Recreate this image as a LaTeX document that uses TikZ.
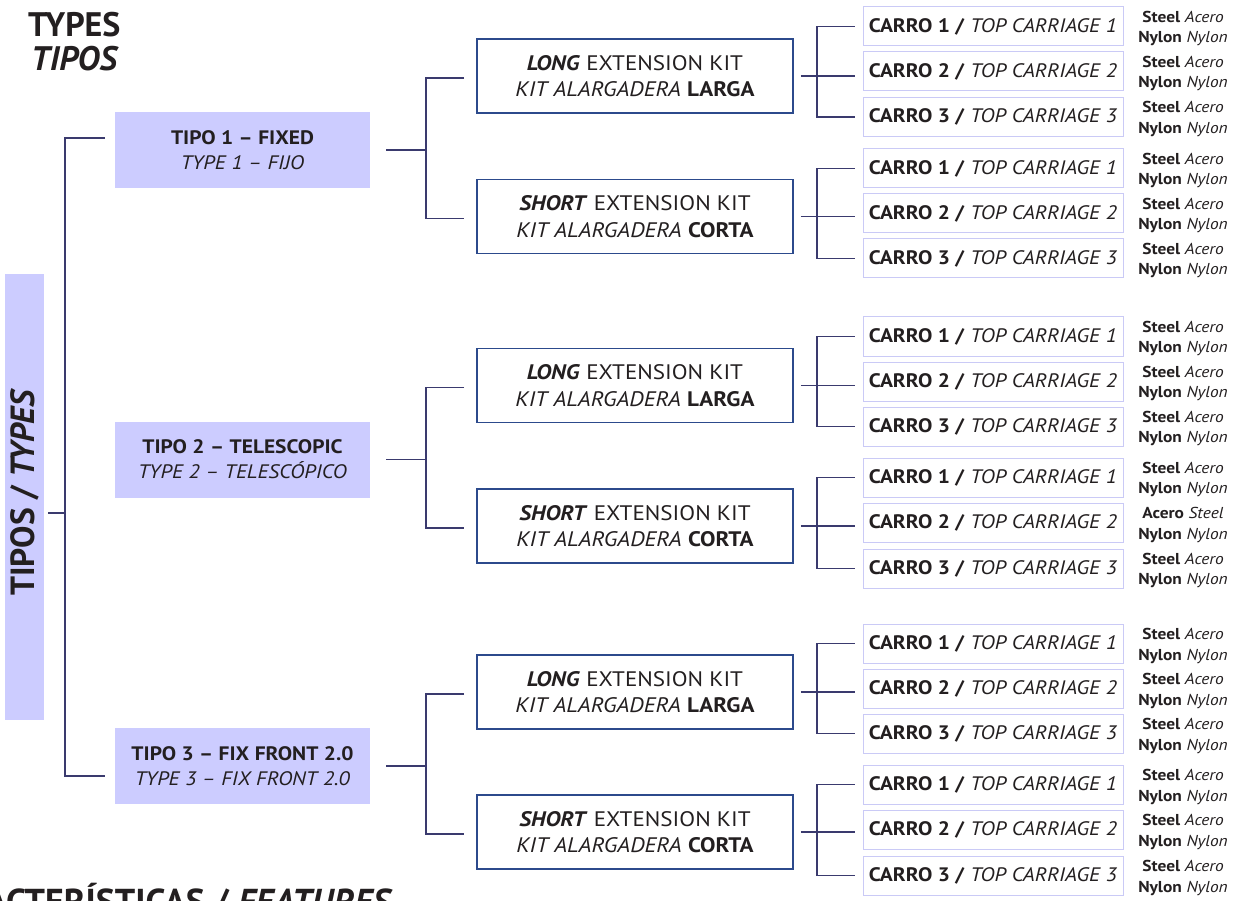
\documentclass[tikz,border=0pt]{standalone}
\usepackage{fontspec}
\setmainfont[FakeStretch=1.1]{PT Sans}
\newfontfamily\plainfont{PT Sans}
\usetikzlibrary{calc}
\definecolor{lav}{HTML}{CCCCFF}
\definecolor{navy}{HTML}{3A3A6E}
\definecolor{extblue}{HTML}{2C4A8C}
\definecolor{carb}{HTML}{CACAF6}
\definecolor{txt}{HTML}{231F20}
\tikzset{
  typebox/.style={fill=lav, minimum width=255pt, minimum height=76pt, inner sep=0pt, align=center, text=txt, font=\fontsize{19.5}{25}\selectfont},
  extbox/.style={draw=extblue, line width=1.6pt, fill=white, minimum width=316pt, minimum height=74pt, inner sep=0pt, align=center, text=txt, font=\fontsize{21}{26.5}\selectfont},
  carbox/.style={draw=carb, line width=1pt, fill=white, minimum width=260pt, minimum height=39pt, inner sep=0pt, text=txt, font=\fontsize{19.5}{20}\selectfont},
  mat/.style={inner sep=0pt, text=txt, font=\fontsize{15.8}{16}\selectfont},
  conn/.style={draw=navy, line width=1.6pt},
}
\newcommand\carro[4]{%
  \node[carbox] (#1) at (993,#2) {\textbf{CARRO #3 /} \textit{TOP CARRIAGE #3}};
  \node[mat] (#1a) at (1183,#2-10) {#4};
  \node[mat] (#1b) at (1183,#2+12.5) {\textbf{Nylon} \textit{Nylon}};
}
\newcommand\extlinks[4]{%
  \draw[conn] ([xshift=7pt]#1.east) -- ($(#3.west|-#1.east)+(-8,0)$);
  \draw[conn] ([xshift=-8pt]#2.west) -| ([xshift=23pt]#1.east) |- ([xshift=-8pt]#4.west);
}
\newcommand\typelinks[3]{%
  \draw[conn] ([xshift=16pt]#1.east) -- ([xshift=56pt]#1.east);
  \draw[conn] ([xshift=-12pt,yshift=-2pt]#2.west) -| ([xshift=56pt]#1.east) |- ([xshift=-12pt,yshift=-2pt]#3.west);
}
\newcommand\stdmat{\textbf{Steel} \textit{Acero}}
\begin{document}
\begin{tikzpicture}[x=1pt,y=-1pt]
\clip (0,0) rectangle (1237,901);
\fill[white] (0,0) rectangle (1237,901);

% titles
\node[anchor=base west, inner sep=0pt, text=txt, font=\plainfont\fontsize{34}{34}\selectfont\bfseries] (title1) at (28,37) {TYPES};
\node[anchor=base west, inner sep=0pt, text=txt, font=\plainfont\fontsize{34}{34}\selectfont\bfseries\itshape] (title2) at (31,71) {TIPOS};
\node[anchor=base east, inner sep=0pt, text=txt, font=\plainfont\fontsize{36}{36}\selectfont\bfseries] (feat) at (393,914) {CARACTERÍSTICAS / \textit{FEATURES}};

% left vertical box
\node[fill=lav, minimum width=39pt, minimum height=446pt, inner sep=0pt, text=txt] (R) at (24.5,497)
  {\rotatebox{90}{\plainfont\fontsize{33.5}{33.5}\selectfont\bfseries\hspace*{10pt}TIPOS / \textit{TYPES}}};

% type boxes
\node[typebox] (T1) at (242.5,150) {\textbf{TIPO 1 -- FIXED}\\\textit{TYPE 1 -- FIJO}};
\node[typebox] (T2) at (242.5,459.5) {\textbf{TIPO 2 -- TELESCOPIC}\\\textit{TYPE 2 -- TELESCÓPICO}};
\node[typebox] (T3) at (242.5,766) {\textbf{TIPO 3 -- FIX FRONT 2.0}\\\textit{TYPE 3 -- FIX FRONT 2.0}};

% trunk
\coordinate (tk) at (65,513);
\draw[conn] ([xshift=4pt,yshift=-16pt]R.east) -- (tk);
\draw[conn] ([xshift=-10pt,yshift=12pt]T1.west) -| (tk) |- ([xshift=-10pt,yshift=-10pt]T3.west);

% extension boxes
\node[extbox] (E1L) at (635,76) {\textbf{\textit{LONG}} EXTENSION KIT\\\textit{KIT ALARGADERA} \textbf{LARGA}};
\node[extbox] (E1S) at (635,216.5) {\textbf{\textit{SHORT}} EXTENSION KIT\\\textit{KIT ALARGADERA} \textbf{CORTA}};
\node[extbox] (E2L) at (635,385.5) {\textbf{\textit{LONG}} EXTENSION KIT\\\textit{KIT ALARGADERA} \textbf{LARGA}};
\node[extbox] (E2S) at (635,526) {\textbf{\textit{SHORT}} EXTENSION KIT\\\textit{KIT ALARGADERA} \textbf{CORTA}};
\node[extbox] (E3L) at (635,692) {\textbf{\textit{LONG}} EXTENSION KIT\\\textit{KIT ALARGADERA} \textbf{LARGA}};
\node[extbox] (E3S) at (635,832) {\textbf{\textit{SHORT}} EXTENSION KIT\\\textit{KIT ALARGADERA} \textbf{CORTA}};

\typelinks{T1}{E1L}{E1S}
\typelinks{T2}{E2L}{E2S}
\typelinks{T3}{E3L}{E3S}

% carriages
\carro{a1}{26.5}{1}{\stdmat}
\carro{a2}{71.5}{2}{\stdmat}
\carro{a3}{117}{3}{\stdmat}
\carro{b1}{168.5}{1}{\stdmat}
\carro{b2}{213.5}{2}{\stdmat}
\carro{b3}{258.5}{3}{\stdmat}
\carro{c1}{336.5}{1}{\stdmat}
\carro{c2}{381.5}{2}{\stdmat}
\carro{c3}{426.5}{3}{\stdmat}
\carro{d1}{477.5}{1}{\stdmat}
\carro{d2}{523}{2}{\textbf{Acero} \textit{Steel}}
\carro{d3}{568.5}{3}{\stdmat}
\carro{e1}{643.5}{1}{\stdmat}
\carro{e2}{688.5}{2}{\stdmat}
\carro{e3}{733.5}{3}{\stdmat}
\carro{f1}{784.5}{1}{\stdmat}
\carro{f2}{829.5}{2}{\stdmat}
\carro{f3}{875.5}{3}{\stdmat}

\extlinks{E1L}{a1}{a2}{a3}
\extlinks{E1S}{b1}{b2}{b3}
\extlinks{E2L}{c1}{c2}{c3}
\extlinks{E2S}{d1}{d2}{d3}
\extlinks{E3L}{e1}{e2}{e3}
\extlinks{E3S}{f1}{f2}{f3}
\end{tikzpicture}
\end{document}
